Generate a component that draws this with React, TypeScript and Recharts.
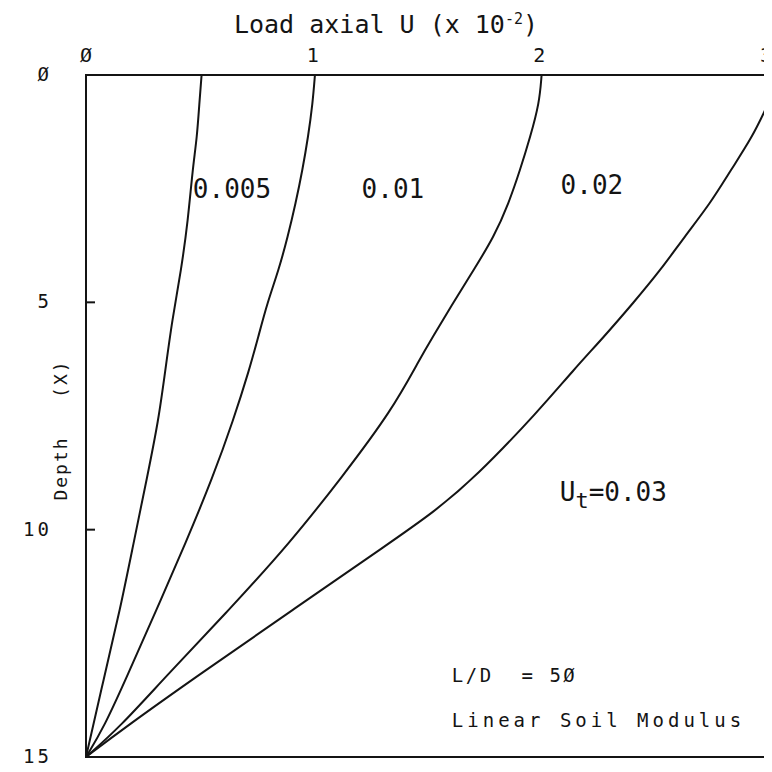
import { ScatterChart, Scatter, XAxis, YAxis, ReferenceArea, ReferenceDot } from 'recharts'

// depth (X) vs axial load U (x 10^-2), one curve per tip load Ut
const depthA = [0, 0.62, 1.36, 2.09, 3.19, 4.29, 5.39, 6.49, 7.59, 8.84, 10.29, 11.77, 13.24, 15]
const loadA = [0.51, 0.5, 0.49, 0.47, 0.45, 0.42, 0.38, 0.35, 0.32, 0.27, 0.21, 0.15, 0.08, 0]

const depthB = [0, 0.62, 1.36, 2.09, 2.82, 3.56, 4.29, 5.01, 5.76, 6.49, 7.59, 8.84, 10.29, 11.77, 13.24, 14.34, 15]
const loadB = [1.01, 1.0, 0.98, 0.955, 0.925, 0.89, 0.85, 0.8, 0.76, 0.72, 0.65, 0.56, 0.44, 0.31, 0.18, 0.08, 0]

const depthC = [0, 0.62, 1.36, 2.09, 2.82, 3.56, 4.29, 5.01, 5.76, 6.27, 7.37, 8.84, 10.29, 11.77, 13.24, 14.34, 15]
const loadC = [2.01, 2.0, 1.96, 1.915, 1.865, 1.8, 1.71, 1.62, 1.53, 1.47, 1.35, 1.13, 0.9, 0.63, 0.35, 0.15, 0]

const depthD = [0.73, 1.36, 2.09, 2.82, 3.56, 4.29, 5.01, 5.76, 6.49, 7.37, 8.84, 9.63, 10.29, 11.77, 13.24, 14.34, 15]
const loadD = [3.0, 2.94, 2.845, 2.755, 2.64, 2.535, 2.415, 2.285, 2.15, 2.0, 1.72, 1.53, 1.34, 0.91, 0.485, 0.175, 0]

const xTicks = [0, 1, 2, 3]
const xTickLabels = ['Ø', '1', '2', '3']
const yTicks = [0, 5, 10, 15]
const yTickLabels = ['Ø', '5', '10', '15']

const MONO = '"DejaVu Sans Mono", monospace'
const INK = '#141414'
const Y_TICK_MARGIN = 34

const toPoints = (depth: number[], load: number[]) =>
  depth.map((d, i) => ({ depth: d, u: load[i] }))

const curves = [
  toPoints(depthA, loadA),
  toPoints(depthB, loadB),
  toPoints(depthC, loadC),
  toPoints(depthD, loadD),
]

// eslint-disable-next-line @typescript-eslint/no-explicit-any
const DepthTick = (props: any) => {
  const { x, y, payload } = props
  const v = payload.value
  const ax = x + Y_TICK_MARGIN
  return (
    <g>
      {(v === 5 || v === 10) && (
        <line x1={ax} x2={ax + 9} y1={y} y2={y} stroke={INK} strokeWidth={2} />
      )}
      <text x={x} y={y} dy={6} textAnchor="end" fontFamily={MONO} fontSize={19}
        letterSpacing={3} fill={INK}>
        {yTickLabels[yTicks.indexOf(v)]}
      </text>
    </g>
  )
}

// eslint-disable-next-line @typescript-eslint/no-explicit-any
const LoadTick = (props: any) => {
  const { x, y, payload } = props
  return (
    <text x={x} y={y} dy={-2} textAnchor="middle" fontFamily={MONO} fontSize={20} fill={INK}>
      {xTickLabels[xTicks.indexOf(payload.value)]}
    </text>
  )
}

// eslint-disable-next-line @typescript-eslint/no-explicit-any
const renderTitle = (props: any) => {
  const vb = props.viewBox
  return (
    <text x={vb.x + vb.width / 2 - 40} y={vb.y - 2} textAnchor="middle" fontFamily={MONO}
      fontSize={25} fill={INK}>
      Load axial U (x 10<tspan fontSize={15} dy={-9}>-2</tspan>
      <tspan dy={9}>)</tspan>
    </text>
  )
}

// eslint-disable-next-line @typescript-eslint/no-explicit-any
const renderDepthLabel = (props: any) => {
  const vb = props.viewBox
  const cx = vb.x + 25
  const cy = 422
  return (
    <text x={cx} y={cy} transform={`rotate(-90 ${cx} ${cy})`} textAnchor="middle" dy={6}
      fontFamily={MONO} fontSize={18} letterSpacing={2} fill={INK} xmlSpace="preserve">
      {'Depth   (X)'}
    </text>
  )
}

const note = (text: string, size: number, spacing: number, anchor: 'start' | 'middle') =>
  // eslint-disable-next-line @typescript-eslint/no-explicit-any
  (props: any) => (
    <text x={props.cx} y={props.cy} dy={size * 0.36} textAnchor={anchor} fontFamily={MONO}
      fontSize={size} letterSpacing={spacing} fill={INK} xmlSpace="preserve">
      {text}
    </text>
  )

// eslint-disable-next-line @typescript-eslint/no-explicit-any
const tipLabel = (props: any) => (
  <text x={props.cx} y={props.cy} dy={9} fontFamily={MONO} fontSize={26} fill={INK}>
    U<tspan fontSize={22} dy={7}>t</tspan>
    <tspan dy={-7}>=0.03</tspan>
  </text>
)

export default function App() {
  return (
    <ScatterChart width={764} height={764} margin={{ top: 27, right: 6, bottom: 15, left: 28 }}>
      <XAxis type="number" dataKey="u" orientation="top" domain={[0, 3]} ticks={xTicks}
        height={40} axisLine={false} tickLine={false} tickSize={0} tickMargin={11}
        tick={<LoadTick />} label={renderTitle} allowDataOverflow />
      <YAxis type="number" dataKey="depth" reversed domain={[0, 15]} ticks={yTicks}
        width={50} axisLine={false} tickLine={false} tickSize={0} tickMargin={Y_TICK_MARGIN}
        tick={<DepthTick />} label={renderDepthLabel} allowDataOverflow />
      <ReferenceArea x1={0} x2={3} y1={0} y2={15} fill="none" stroke={INK} strokeWidth={2}
        fillOpacity={0} />
      {curves.map((pts, i) => (
        <Scatter key={i} data={pts} line={{ stroke: INK, strokeWidth: 2 }}
          lineJointType="basis" shape={() => <g />} isAnimationActive={false} />
      ))}
      <ReferenceDot x={0.644} y={2.51} r={0} shape={note('0.005', 26, 0, 'middle')} />
      <ReferenceDot x={1.354} y={2.51} r={0} shape={note('0.01', 26, 0, 'middle')} />
      <ReferenceDot x={2.232} y={2.42} r={0} shape={note('0.02', 26, 0, 'middle')} />
      <ReferenceDot x={2.09} y={9.17} r={0} shape={tipLabel} />
      <ReferenceDot x={1.614} y={13.2} r={0} shape={note('L/D  = 5Ø', 19, 2.5, 'start')} />
      <ReferenceDot x={1.614} y={14.19} r={0} shape={note('Linear Soil Modulus', 19, 4, 'start')} />
    </ScatterChart>
  )
}
